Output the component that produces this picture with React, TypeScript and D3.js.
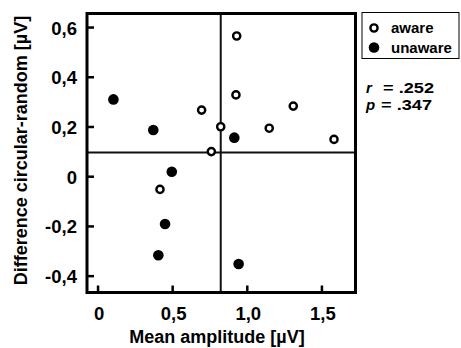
import * as d3 from "d3";
import React, { useEffect, useRef } from "react";

// aware subjects (open circles)
const awareX = [0.929, 0.924, 0.694, 0.822, 0.759, 0.415, 1.147, 1.308, 1.581];
const awareY = [0.566, 0.329, 0.268, 0.201, 0.101, -0.051, 0.195, 0.284, 0.15];

// unaware subjects (filled circles)
const unawareX = [0.103, 0.37, 0.494, 0.449, 0.404, 0.913, 0.942];
const unawareY = [0.311, 0.188, 0.02, -0.19, -0.316, 0.157, -0.351];

const xTicks = [0, 0.5, 1.0, 1.5];
const xTickLabels = ["0", "0,5", "1,0", "1,5"];
const yTicks = [0.6, 0.4, 0.2, 0, -0.2, -0.4];
const yTickLabels = ["0,6", "0,4", "0,2", "0", "-0,2", "-0,4"];

// mean lines
const meanX = 0.822;
const meanY = 0.097;

const legendLabels = ["aware", "unaware"];
const statNames = ["r", "p"];
const statValues = ["= .252", "= .347"];

const FONT = "'Liberation Sans', Arial, Helvetica, sans-serif";

export default function App() {
  const svgRef = useRef(null);
  const width = 461;
  const height = 348;

  useEffect(() => {
    const svgEl = d3.select(svgRef.current);
    svgEl.selectAll("*").remove();

    const x_scale = d3.scaleLinear().domain([-0.074, 1.725]).range([87, 355.5]);
    const y_scale = d3.scaleLinear().domain([0.6565, -0.4658]).range([13.5, 292.5]);

    const [x0, x1] = x_scale.range();
    const [y0, y1] = y_scale.range();

    /* mean lines */
    svgEl
      .append("line")
      .attr("x1", x_scale(meanX))
      .attr("x2", x_scale(meanX))
      .attr("y1", y0)
      .attr("y2", y1)
      .attr("stroke", "#111")
      .attr("stroke-width", 2);
    svgEl
      .append("line")
      .attr("x1", x0)
      .attr("x2", x1)
      .attr("y1", y_scale(meanY))
      .attr("y2", y_scale(meanY))
      .attr("stroke", "#111")
      .attr("stroke-width", 2);

    /* ticks, pointing inward */
    svgEl
      .selectAll("xtick")
      .data(xTicks)
      .enter()
      .append("line")
      .attr("x1", (d) => x_scale(d))
      .attr("x2", (d) => x_scale(d))
      .attr("y1", y1)
      .attr("y2", y1 - 7)
      .attr("stroke", "#000")
      .attr("stroke-width", 2.5);
    svgEl
      .selectAll("ytick")
      .data(yTicks)
      .enter()
      .append("line")
      .attr("x1", x0)
      .attr("x2", x0 + 7)
      .attr("y1", (d) => y_scale(d))
      .attr("y2", (d) => y_scale(d))
      .attr("stroke", "#000")
      .attr("stroke-width", 2.5);

    /* frame */
    svgEl
      .append("rect")
      .attr("x", x0)
      .attr("y", y0)
      .attr("width", x1 - x0)
      .attr("height", y1 - y0)
      .attr("fill", "none")
      .attr("stroke", "#000")
      .attr("stroke-width", 3);

    /* tick labels */
    svgEl
      .selectAll("xlab")
      .data(xTicks)
      .enter()
      .append("text")
      .attr("x", (d) => x_scale(d) + 1)
      .attr("y", 320)
      .attr("text-anchor", "middle")
      .attr("font-family", FONT)
      .attr("font-weight", "bold")
      .attr("font-size", 18.5)
      .text((d, i) => xTickLabels[i]);
    svgEl
      .selectAll("ylab")
      .data(yTicks)
      .enter()
      .append("text")
      .attr("x", 77)
      .attr("y", (d) => y_scale(d) + 7)
      .attr("text-anchor", "end")
      .attr("font-family", FONT)
      .attr("font-weight", "bold")
      .attr("font-size", 18.5)
      .text((d, i) => yTickLabels[i]);

    /* axis titles */
    svgEl
      .append("text")
      .attr("x", 217)
      .attr("y", 343)
      .attr("text-anchor", "middle")
      .attr("font-family", FONT)
      .attr("font-weight", "bold")
      .attr("font-size", 18)
      .text("Mean amplitude [µV]");
    svgEl
      .append("text")
      .attr("transform", "translate(27,150.5)rotate(-90)")
      .attr("text-anchor", "middle")
      .attr("font-family", FONT)
      .attr("font-weight", "bold")
      .attr("font-size", 18)
      .text("Difference circular-random [µV]");

    /* points */
    svgEl
      .selectAll("aware")
      .data(awareX)
      .enter()
      .append("circle")
      .attr("cx", (d) => x_scale(d))
      .attr("cy", (d, i) => y_scale(awareY[i]))
      .attr("r", 3.6)
      .attr("fill", "#fff")
      .attr("stroke", "#000")
      .attr("stroke-width", 2.4);
    svgEl
      .selectAll("unaware")
      .data(unawareX)
      .enter()
      .append("circle")
      .attr("cx", (d) => x_scale(d))
      .attr("cy", (d, i) => y_scale(unawareY[i]))
      .attr("r", 5.3)
      .attr("fill", "#000");

    /* legend */
    svgEl
      .append("rect")
      .attr("x", 362)
      .attr("y", 12.5)
      .attr("width", 97)
      .attr("height", 46)
      .attr("fill", "#fff")
      .attr("stroke", "#000")
      .attr("stroke-width", 1);
    svgEl
      .append("circle")
      .attr("cx", 374)
      .attr("cy", 28)
      .attr("r", 3.6)
      .attr("fill", "#fff")
      .attr("stroke", "#000")
      .attr("stroke-width", 2.4);
    svgEl
      .append("circle")
      .attr("cx", 374)
      .attr("cy", 47.5)
      .attr("r", 5.3)
      .attr("fill", "#000");
    svgEl
      .selectAll("leg")
      .data(legendLabels)
      .enter()
      .append("text")
      .attr("x", 391)
      .attr("y", (d, i) => 33 + i * 19.5)
      .attr("font-family", FONT)
      .attr("font-weight", "bold")
      .attr("font-size", 15)
      .text((d) => d);

    /* statistics */
    svgEl
      .selectAll("statname")
      .data(statNames)
      .enter()
      .append("text")
      .attr("x", 366)
      .attr("y", (d, i) => 92.5 + i * 17.5)
      .attr("font-family", FONT)
      .attr("font-weight", "bold")
      .attr("font-style", "italic")
      .attr("font-size", 15)
      .text((d) => d);
    svgEl
      .selectAll("statval")
      .data(statValues)
      .enter()
      .append("text")
      .attr("x", (d, i) => (i === 0 ? 383 : 381))
      .attr("y", (d, i) => 92.5 + i * 17.5)
      .attr("font-family", FONT)
      .attr("font-weight", "bold")
      .attr("font-size", 15)
      .attr("textLength", 51)
      .attr("lengthAdjust", "spacingAndGlyphs")
      .text((d) => d);
  });

  return (
    <svg
      width={width}
      height={height}
      ref={svgRef}
      style={{ position: "absolute", left: 0, top: 0, background: "#fff" }}
    ></svg>
  );
}
